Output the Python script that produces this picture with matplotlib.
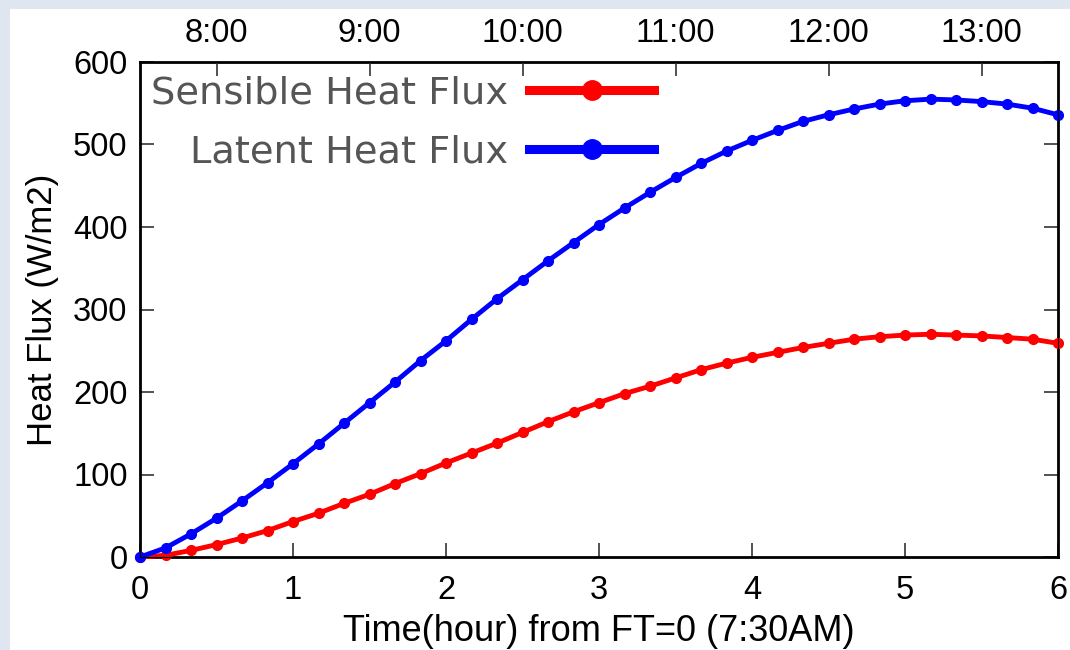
import matplotlib.pyplot as plt
import matplotlib.patches as mpatches
import numpy as np

# minutes after FT=0 (7:30AM), one point every 10 minutes
minutes = [0, 10, 20, 30, 40, 50, 60, 70, 80, 90, 100, 110, 120, 130, 140, 150,
           160, 170, 180, 190, 200, 210, 220, 230, 240, 250, 260, 270, 280, 290,
           300, 310, 320, 330, 340, 350, 360]

sensible = [0, 2, 8, 15, 23, 32, 43, 53, 65, 76, 89, 101, 114, 126, 138, 151,
            164, 176, 187, 198, 207, 217, 227, 235, 242, 248, 254, 259, 264, 267,
            269, 270, 269, 268, 266, 264, 259]

latent = [0, 11, 28, 47, 68, 90, 113, 137, 162, 187, 212, 238, 262, 288, 313, 336,
          359, 381, 403, 423, 442, 460, 477, 492, 505, 517, 528, 536, 543, 549,
          553, 555, 554, 552, 549, 544, 536]

bottom_ticks = [0, 1, 2, 3, 4, 5, 6]
top_ticks = [0.5, 1.5, 2.5, 3.5, 4.5, 5.5]
top_labels = ["8:00", "9:00", "10:00", "11:00", "12:00", "13:00"]
y_ticks = [0, 100, 200, 300, 400, 500, 600]

hours = np.array(minutes) / 60.0

font = ['Liberation Sans', 'DejaVu Sans']

fig = plt.figure(figsize=(10.7, 6.5), dpi=100)
fig.patch.set_facecolor('#dfe6ef')
# white slide area
fig.patches.append(mpatches.Rectangle((10 / 1070, 0), 1, 1 - 9 / 650,
                                      transform=fig.transFigure,
                                      facecolor='white', edgecolor='none', zorder=-5))

ax = fig.add_axes([140 / 1070, 1 - 557 / 650, 918 / 1070, 495 / 650])

ax.plot(hours, sensible, color='#ff0000', lw=3.5, marker='o', ms=7,
        clip_on=False, zorder=3, label='Sensible Heat Flux')
ax.plot(hours, latent, color='#0000ff', lw=3.5, marker='o', ms=7,
        clip_on=False, zorder=4, label='Latent Heat Flux')

ax.set_xlim(0, 6)
ax.set_ylim(0, 600)
ax.set_xticks(bottom_ticks)
ax.set_yticks(y_ticks)
ax.set_xticklabels([str(t) for t in bottom_ticks], fontfamily=font, fontsize=23.5)
ax.set_yticklabels([str(t) for t in y_ticks], fontfamily=font, fontsize=23.5)
ax.tick_params(axis='both', direction='in', length=10, width=1.2, color='#333333')
ax.tick_params(axis='x', pad=13, top=True)
ax.tick_params(axis='y', pad=9, right=True)
for s in ax.spines.values():
    s.set_linewidth(2)

ax2 = ax.twiny()
ax2.set_xlim(0, 6)
ax2.set_xticks(top_ticks)
ax2.set_xticklabels(top_labels, fontfamily=font, fontsize=23.5)
ax2.tick_params(axis='x', direction='in', length=10, width=1.2, color='#333333', pad=9)

ax.set_xlabel('Time(hour) from FT=0 (7:30AM)', fontfamily=font, fontsize=26, labelpad=6)
ax.set_ylabel('Heat Flux (W/m2)', fontfamily=font, fontsize=25, labelpad=10)

leg = ax.legend(loc='upper left', bbox_to_anchor=(0.012, 0.972), frameon=False,
                markerfirst=False, handlelength=3.25, handletextpad=0.55,
                labelspacing=0.6, borderpad=0, borderaxespad=0,
                prop={'family': 'DejaVu Sans', 'size': 27.6})
for t in leg.get_texts():
    t.set_color('#555555')
for h in leg.legend_handles:
    h.set_linewidth(6.5)
    h.set_markersize(14)

fig.savefig('out.png', dpi=100)
